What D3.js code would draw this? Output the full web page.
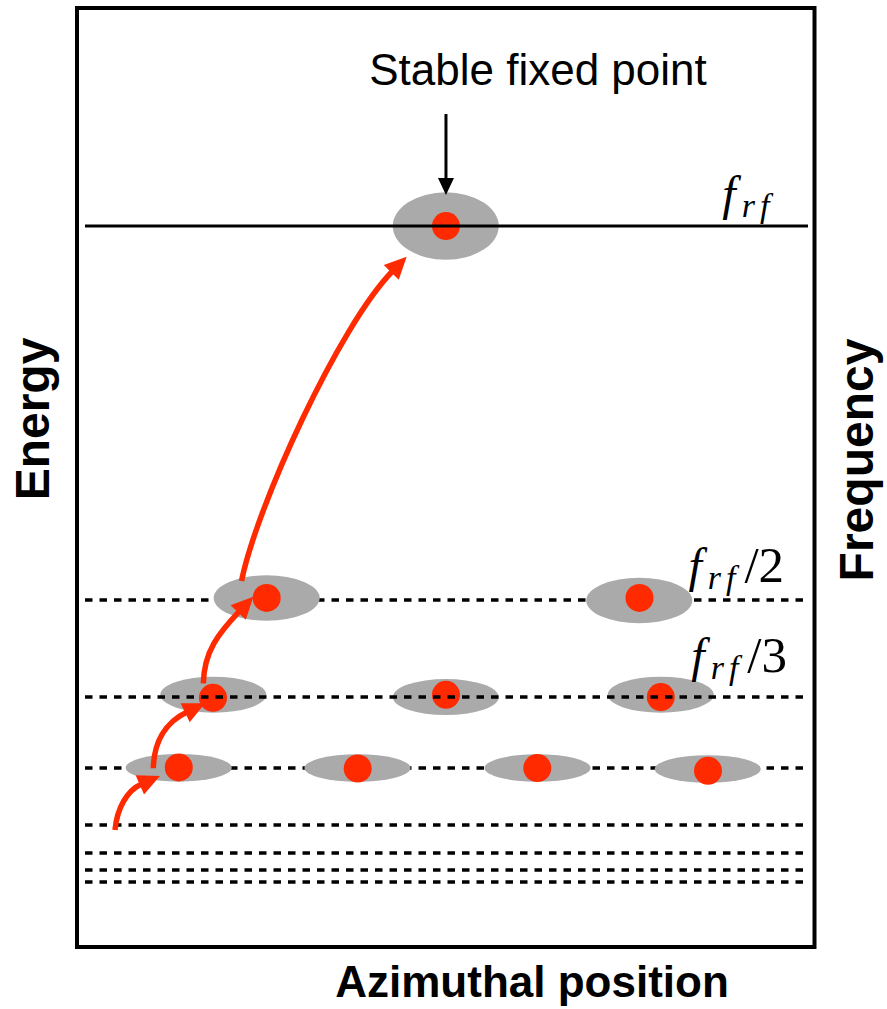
<!DOCTYPE html>
<html><head><meta charset="utf-8">
<script src="https://cdn.jsdelivr.net/npm/d3@7/dist/d3.min.js"></script>
<style>body{margin:0;background:#fff}svg{display:block}</style>
</head><body>
<svg id="chart" width="887" height="1009"></svg>
<script>
// ---------------- data (azimuthal phase 0-100, energy 0-100) ----------------
const levelNames   = ["f_rf", "f_rf/2", "f_rf/3", "f_rf/4", "f_rf/5", "f_rf/6", "f_rf/7", "f_rf/8"];
const levelEnergy  = [76.78, 36.95, 26.62, 19.06, 12.99, 10.01, 8.20, 6.92];
const levelLabelSuffix = ["", "/2", "/3"];
const levelLabelPhase  = [87.5, 82.9, 83.3];

const bucketLevel  = [0, 1, 1, 2, 2, 2, 3, 3, 3, 3];
const bucketPhase  = [50.0, 25.72, 76.24, 18.48, 50.0, 79.15, 13.79, 38.03, 62.44, 85.52];
const bucketEnergy = [76.78, 37.17, 36.90, 26.87, 26.62, 26.87, 19.08, 19.06, 19.06, 18.95];
const bucketHalfPhase  = [7.19, 7.19, 7.19, 7.19];   // per level
const bucketHalfEnergy = [3.59, 2.42, 1.92, 1.47];   // per level

const particlePhase  = [50.03, 25.72, 76.27, 18.44, 50.03, 79.16, 13.80, 38.06, 62.41, 85.56];
const particleEnergy = [76.78, 37.17, 37.17, 26.54, 26.86, 26.62, 19.12, 19.01, 19.06, 18.76];

const arrowFrom = [[5.15, 12.46], [10.35, 19.03], [17.13, 28.08], [22.31, 38.98]];
const arrowTo   = [[11.25, 18.21], [17.36, 25.95], [23.91, 37.31], [44.70, 73.51]];

const fixedPointLabel = "Stable fixed point";
const fixedArrowPhase = 50.03;
const fixedArrowEnergy = [88.71, 80.09];
const xTitle = "Azimuthal position";
const yTitleLeft = "Energy";
const yTitleRight = "Frequency";

// ---------------- layout / style ----------------
const RED = "#ff2a00", GREY = "#aaaaaa";
const SANS = "Helvetica, 'Liberation Sans', Arial, sans-serif";
const SERIF = "'Liberation Serif', 'DejaVu Serif', serif";
const arrowShape = [
  {d0: [0.10, -1], d1: [0.916, -0.40], a: 22, b: 14},
  {d0: [0.02, -1], d1: [0.90, -0.43], a: 26, b: 22},
  {d0: [0.02, -1], d1: [0.69, -0.725], a: 32, b: 28},
  {d0: [0.20, -1], d1: [0.70, -0.714], a: 75, b: 75}
];

const svg = d3.select("#chart");
const x = d3.scaleLinear().domain([0, 100]).range([77, 814.5]);
const y = d3.scaleLinear().domain([0, 100]).range([947, 8]);

// frame
svg.append("rect")
  .attr("x", x(0)).attr("y", y(100))
  .attr("width", x(100) - x(0)).attr("height", y(0) - y(100))
  .attr("fill", "none").attr("stroke", "#000").attr("stroke-width", 4);

const lineX0 = x(0) + 8, lineX1 = x(100) - 6.5;
const overlay = i => i === 0 || i === 2;
function drawLines(filter) {
  svg.append("g").selectAll("line")
    .data(levelEnergy.map((e, i) => ({e, i})).filter(d => filter(d.i)))
    .join("line")
    .attr("x1", lineX0).attr("x2", lineX1)
    .attr("y1", d => y(d.e)).attr("y2", d => y(d.e))
    .attr("stroke", "#000").attr("stroke-width", d => d.i === 0 ? 3 : 3.5)
    .attr("stroke-dasharray", d => d.i === 0 ? null : "7.5,7");
}
drawLines(i => !overlay(i));

// buckets
svg.append("g").selectAll("ellipse")
  .data(bucketPhase.map((p, i) => ({p, e: bucketEnergy[i], l: bucketLevel[i]})))
  .join("ellipse")
  .attr("cx", d => x(d.p)).attr("cy", d => y(d.e))
  .attr("rx", d => x(bucketHalfPhase[d.l]) - x(0))
  .attr("ry", d => y(0) - y(bucketHalfEnergy[d.l]))
  .attr("fill", GREY);

// particles
svg.append("g").selectAll("circle")
  .data(particlePhase.map((p, i) => ({p, e: particleEnergy[i]})))
  .join("circle")
  .attr("cx", d => x(d.p)).attr("cy", d => y(d.e))
  .attr("r", 14).attr("fill", RED);

drawLines(overlay);

// capture arrows
function norm(v) { const l = Math.hypot(v[0], v[1]); return [v[0] / l, v[1] / l]; }
const headLen = 22, headHalf = 10.5;
const ag = svg.append("g");
arrowFrom.forEach((f, i) => {
  const s = arrowShape[i];
  const p0 = [x(f[0]), y(f[1])];
  const tip = [x(arrowTo[i][0]), y(arrowTo[i][1])];
  const n0 = norm(s.d0), n1 = norm(s.d1);
  const base = [tip[0] - headLen * n1[0], tip[1] - headLen * n1[1]];
  const c1 = [p0[0] + s.a * n0[0], p0[1] + s.a * n0[1]];
  const c2 = [base[0] - s.b * n1[0], base[1] - s.b * n1[1]];
  const p = d3.path();
  p.moveTo(p0[0], p0[1]);
  p.bezierCurveTo(c1[0], c1[1], c2[0], c2[1], base[0] + 2 * n1[0], base[1] + 2 * n1[1]);
  ag.append("path").attr("d", p.toString())
    .attr("fill", "none").attr("stroke", RED).attr("stroke-width", 5.5);
  const perp = [-n1[1], n1[0]];
  const h = d3.path();
  h.moveTo(tip[0], tip[1]);
  h.lineTo(base[0] + headHalf * perp[0], base[1] + headHalf * perp[1]);
  h.lineTo(base[0] - headHalf * perp[0], base[1] - headHalf * perp[1]);
  h.closePath();
  ag.append("path").attr("d", h.toString()).attr("fill", RED);
});

// fixed point annotation
const fx = x(fixedArrowPhase);
const fyTail = y(fixedArrowEnergy[0]), fyTip = y(fixedArrowEnergy[1]);
svg.append("line").attr("x1", fx).attr("x2", fx)
  .attr("y1", fyTail).attr("y2", fyTip - 15)
  .attr("stroke", "#000").attr("stroke-width", 3);
svg.append("path")
  .attr("d", `M${fx},${fyTip} L${fx - 8},${fyTip - 17} L${fx + 8},${fyTip - 17} Z`)
  .attr("fill", "#000");
svg.append("text").text(fixedPointLabel)
  .attr("x", fx + 92).attr("y", 85)
  .attr("text-anchor", "middle")
  .attr("font-family", SANS).attr("font-size", 44).attr("fill", "#000");

// level labels
const labelBaseOffset = [16, 18, 25];
levelLabelSuffix.forEach((suf, i) => {
  const t = svg.append("text")
    .attr("x", x(levelLabelPhase[i]))
    .attr("y", y(levelEnergy[i]) - labelBaseOffset[i])
    .attr("font-family", SERIF).attr("font-size", 48).attr("fill", "#000");
  t.append("tspan").attr("font-style", "italic").text("f");
  t.append("tspan").attr("font-style", "italic").attr("font-size", 34)
    .attr("dx", 6).attr("dy", 7).text("r");
  t.append("tspan").attr("font-style", "italic").attr("font-size", 34)
    .attr("dx", 5).text("f");
  if (suf) t.append("tspan").attr("font-size", 51).attr("dx", 9).attr("dy", -7).text(suf);
});

// axis titles
svg.append("text").text(xTitle)
  .attr("x", 532).attr("y", 997).attr("text-anchor", "middle")
  .attr("font-family", SANS).attr("font-weight", "bold").attr("font-size", 44);
svg.append("text").text(yTitleLeft)
  .attr("transform", "translate(49,419) rotate(-90)").attr("text-anchor", "middle")
  .attr("font-family", SANS).attr("font-weight", "bold").attr("font-size", 48);
svg.append("text").text(yTitleRight)
  .attr("transform", "translate(873,460) rotate(-90)").attr("text-anchor", "middle")
  .attr("font-family", SANS).attr("font-weight", "bold").attr("font-size", 48);
</script>
</body></html>
